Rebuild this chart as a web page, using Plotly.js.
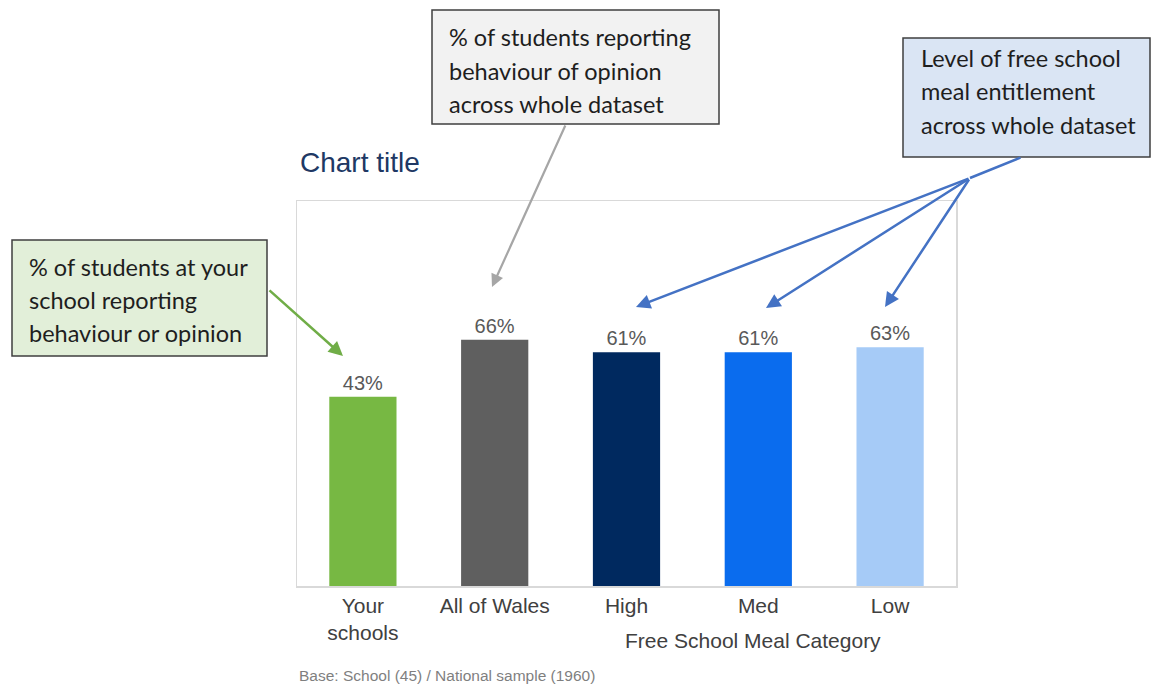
<!DOCTYPE html>
<html>
<head>
<meta charset="utf-8">
<script src="https://cdn.plot.ly/plotly-3.0.1.min.js"></script>
<style>
  html, body { margin: 0; padding: 0; background: #ffffff; }
  #chart { width: 1157px; height: 684px; }
</style>
</head>
<body>
<div id="chart"></div>
<script>
// ---- Data ----
const categories = ["Your<br>schools", "All of Wales", "High", "Med", "Low"];
const values = [43, 66, 61, 61, 63];
const valueLabels = ["43%", "66%", "61%", "61%", "63%"];
const barColors = ["#77b843", "#5f5f5f", "#00295f", "#0a6cee", "#a6cbf7"];
const chartTitle = "Chart title";
const axisTitle = "Free School Meal Category";
const footnote = "Base: School (45) / National sample (1960)";
const greenBoxLines = ["% of students at your", "school reporting", "behaviour or opinion"];
const grayBoxLines = ["% of students reporting", "behaviour of opinion", "across whole dataset"];
const blueBoxLines = ["Level of free school", "meal entitlement", "across whole dataset"];

// ---- Layout geometry (pixels) ----
const L = 297, R = 956, T = 201, B = 586;
const W = R - L, H = B - T;
const px2x = x => (x - L) / W;
const px2y = y => (B - y) / H;

// Axis floor of the original chart (bars rise from the bottom of the frame)
const BASE = -33.3;
const TOP = 122;

const trace = {
  type: "bar",
  x: categories,
  y: values.map(v => v - BASE),
  base: BASE,
  text: valueLabels,
  textposition: "outside",
  cliponaxis: false,
  textfont: { family: "Liberation Sans, Arial, sans-serif", size: 20, color: "#595959" },
  marker: { color: barColors, line: { width: 0 } },
  hoverinfo: "skip"
};

const annotations = [];
const shapes = [];

function addBox(lines, x0, x1, y0, y1, fill, textLeft, lineCenters) {
  shapes.push({
    type: "rect", xref: "paper", yref: "paper",
    x0: px2x(x0), x1: px2x(x1), y0: px2y(y1), y1: px2y(y0),
    fillcolor: fill, line: { color: "#3f3f3f", width: 1.5 }, layer: "above"
  });
  lines.forEach((t, i) => {
    annotations.push({
      xref: "paper", yref: "paper",
      x: px2x(textLeft), y: px2y(lineCenters[i]),
      xanchor: "left", yanchor: "middle",
      text: t, showarrow: false,
      font: { family: "Lato, Carlito, Calibri, sans-serif", size: 23.5, color: "#1e1e1e" }
    });
  });
}

addBox(greenBoxLines, 12, 267, 240, 356, "#e2efd9", 27, [267, 300, 333]);
addBox(grayBoxLines, 432, 719, 10, 124, "#f2f2f2", 447, [37, 71, 104]);
addBox(blueBoxLines, 903, 1150, 38, 157, "#dae5f4", 919, [58, 91, 125]);

function addArrow(headX, headY, tailX, tailY, color, width, head) {
  annotations.push({
    xref: "paper", yref: "paper",
    x: px2x(headX), y: px2y(headY),
    ax: tailX - headX, ay: tailY - headY,
    axref: "pixel", ayref: "pixel",
    text: "", showarrow: true,
    arrowhead: head, arrowsize: 1.15, arrowwidth: width, arrowcolor: color
  });
}

addArrow(343, 356, 268, 289, "#70ad47", 2.5, 2);
addArrow(492, 287, 566, 124, "#a6a6a6", 2.2, 2);
addArrow(970, 178, 1022, 157, "#4472c4", 2.5, 0);
addArrow(636, 307, 970, 178, "#4472c4", 2.5, 2);
addArrow(766, 308, 970, 178, "#4472c4", 2.5, 2);
addArrow(885, 307, 970, 178, "#4472c4", 2.5, 2);

annotations.push({
  xref: "paper", yref: "paper",
  x: px2x(753), y: px2y(640), xanchor: "center", yanchor: "middle",
  text: axisTitle, showarrow: false,
  font: { family: "Liberation Sans, Arial, sans-serif", size: 21, color: "#404040" }
});
annotations.push({
  xref: "paper", yref: "paper",
  x: 0, y: px2y(675), xanchor: "left", yanchor: "middle",
  text: footnote, showarrow: false,
  font: { family: "Liberation Sans, Arial, sans-serif", size: 15.5, color: "#7f7f7f" }
});

const layout = {
  width: 1157, height: 684,
  margin: { l: L, r: 1157 - R, t: T, b: 684 - B, pad: 0 },
  paper_bgcolor: "#ffffff",
  plot_bgcolor: "#ffffff",
  showlegend: false,
  bargap: 0.49,
  title: {
    text: chartTitle,
    xref: "paper", x: px2x(300), xanchor: "left",
    yref: "container", y: 1 - 162 / 684, yanchor: "middle",
    font: { family: "Liberation Sans, Arial, sans-serif", size: 28, color: "#203864" }
  },
  xaxis: {
    type: "category",
    categoryorder: "array", categoryarray: categories,
    tickfont: { family: "Liberation Sans, Arial, sans-serif", size: 21, color: "#404040" },
    ticks: "", showgrid: false, zeroline: false,
    showline: true, mirror: true, linecolor: "#d9d9d9", linewidth: 1.5,
    fixedrange: true
  },
  yaxis: {
    range: [BASE, TOP],
    showticklabels: false, ticks: "", showgrid: false, zeroline: false,
    showline: true, mirror: true, linecolor: "#d9d9d9", linewidth: 1.5,
    fixedrange: true
  },
  shapes: shapes,
  annotations: annotations
};

Plotly.newPlot("chart", [trace], layout, { displayModeBar: false, staticPlot: true });
</script>
</body>
</html>
